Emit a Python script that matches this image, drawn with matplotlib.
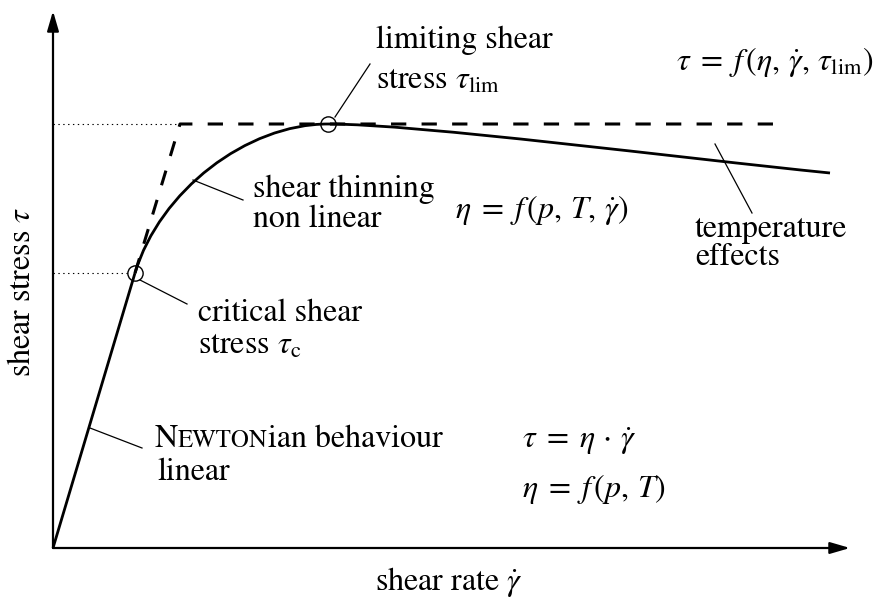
import matplotlib
matplotlib.use('Agg')
import numpy as np
import matplotlib.pyplot as plt
from matplotlib.path import Path
from matplotlib.patches import PathPatch

plt.rcParams['font.family'] = ['STIXGeneral', 'DejaVu Serif']
plt.rcParams['mathtext.fontset'] = 'stix'
plt.rcParams['lines.scale_dashes'] = False

# schematic flow curve, arbitrary units (shear rate, shear stress)
newton_rate = [0, 82]
newton_stress = [0, 275]
crit_point = [82, 275]      # critical shear stress
lim_point = [275, 424]      # limiting shear stress
end_point = [777, 375]      # end of temperature-effect branch
end_slope = -0.10
# dashed asymptotes: extension of the linear part + limiting stress
asym_rate = [82, 127, 720]
asym_stress = [275, 424, 424]
axis_end = [797, 537]

FS = 23
fig = plt.figure(figsize=(8.76, 5.98), dpi=100)
ax = fig.add_axes([0, 0, 1, 1])
ax.set_xlim(-53, 823)
ax.set_ylim(-50, 548)
ax.axis('off')

# axes with arrows
arrow = dict(arrowstyle='-|>,head_length=1.2,head_width=0.35', lw=1.6,
             color='black', shrinkA=0, shrinkB=0)
ax.annotate('', xy=(axis_end[0], 0), xytext=(0, 0), arrowprops=arrow)
ax.annotate('', xy=(0, axis_end[1]), xytext=(0, 0), arrowprops=arrow)

# dotted helper lines
ax.plot([0, asym_rate[1]], [asym_stress[1]] * 2, color='black', lw=0.8,
        ls=(0, (1, 2.5)))
ax.plot([0, crit_point[0] - 6], [crit_point[1]] * 2, color='black', lw=0.8,
        ls=(0, (1, 2.5)))

# dashed asymptotes
ax.plot(asym_rate, asym_stress, color='black', lw=2.2, dashes=(11, 11))

# newtonian part
ax.plot(newton_rate, newton_stress, color='black', lw=2.0, solid_capstyle='butt')

# shear thinning + temperature branch as bezier segments
P0 = np.array(crit_point, float)
C = np.array([asym_rate[1], asym_stress[1]], float)
P3 = np.array(lim_point, float)
k = 0.55
E = np.array(end_point, float)
verts = [P0, P0 + k * (C - P0), P3 + k * (C - P3), P3,
         P3 + np.array([90, 0]), E - 150 * np.array([1, end_slope]), E]
codes = [Path.MOVETO] + [Path.CURVE4] * 6
ax.add_patch(PathPatch(Path(verts, codes), fc='none', ec='black', lw=2.0))

# marker circles (open)
ax.plot([crit_point[0], lim_point[0]], [crit_point[1], lim_point[1]], 'o',
        ms=11, mfc='none', mec='black', mew=1.0, zorder=5)

# leader lines
leaders = [((282, 431), (317, 484)),
           ((140, 368), (190, 348)),
           ((87, 268), (134, 244)),
           ((37, 120), (89, 100)),
           ((662, 404), (699, 335))]
for a, b in leaders:
    ax.plot([a[0], b[0]], [a[1], b[1]], color='black', lw=0.9)


def txt(x, y, s, **kw):
    return ax.text(x, y, s, fontsize=kw.pop('fontsize', FS), va='baseline',
                   ha='left', **kw)


txt(323, 500, 'limiting shear')
txt(323, 459, r'stress $\tau_{\mathrm{lim}}$')
txt(623, 478, r'$\tau\;=\;f\,(\eta,\,\dot{\gamma},\,\tau_{\mathrm{lim}})$')
txt(200, 351, 'shear thinning')
txt(200, 321, 'non linear')
txt(402, 330, r'$\eta\;=\;f\,(p,\,T,\,\dot{\gamma})$')
txt(642, 311, 'temperature')
txt(642, 283, 'effects')
txt(145, 227, 'critical shear')
txt(145, 194, r'stress $\tau_{\mathrm{c}}$')
txt(469, 100, r'$\tau\;=\;\eta\,\cdot\,\dot{\gamma}$')
txt(469, 51, r'$\eta\;=\;f\,(p,\,T)$')
txt(322, -42, r'shear rate $\dot{\gamma}$')
ax.text(-31, 171, r'shear stress $\tau$', fontsize=FS, rotation=90,
        ha='center', va='bottom')

# small caps "Newtonian behaviour"
fig.canvas.draw()
r = fig.canvas.get_renderer()
x = 102
for piece, fs in [('N', FS), ('EWTON', FS * 0.78), ('ian behaviour', FS)]:
    t = txt(x, 101, piece, fontsize=fs)
    bb = t.get_window_extent(renderer=r)
    x = ax.transData.inverted().transform((bb.x1, bb.y0))[0]
txt(104, 68, 'linear')

fig.savefig('out.png', dpi=100)
